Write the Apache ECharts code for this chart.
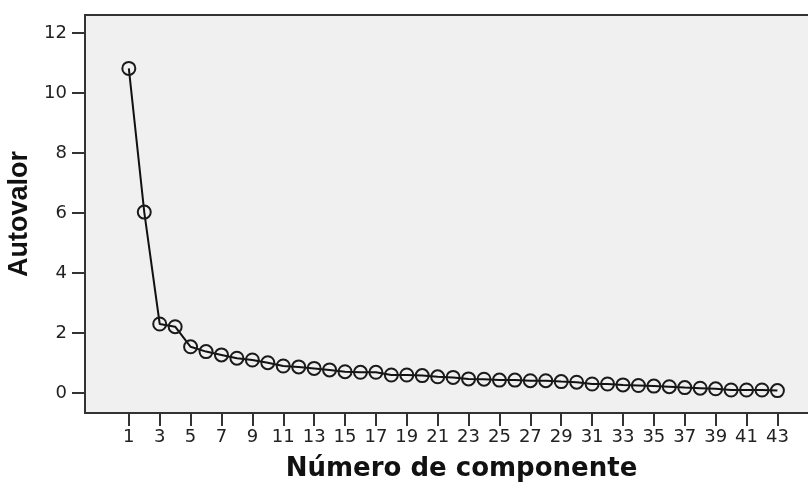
<!DOCTYPE html>
<html>
<head>
<meta charset="utf-8">
<script src="https://cdn.jsdelivr.net/npm/echarts@6/dist/echarts.min.js"></script>
<style>html,body{margin:0;padding:0;background:#fff;}#c{width:808px;height:487px;}</style>
</head>
<body>
<div id="c"></div>
<script>
const components = [1,2,3,4,5,6,7,8,9,10,11,12,13,14,15,16,17,18,19,20,21,22,23,24,25,26,27,28,29,30,31,32,33,34,35,36,37,38,39,40,41,42,43];
const eigenvalues = [10.82,6.03,2.30,2.21,1.54,1.38,1.27,1.16,1.10,1.01,0.90,0.87,0.82,0.77,0.71,0.69,0.69,0.60,0.60,0.58,0.54,0.52,0.47,0.46,0.43,0.43,0.41,0.41,0.38,0.36,0.30,0.30,0.27,0.25,0.23,0.21,0.18,0.16,0.14,0.10,0.10,0.10,0.08];
const xTicks = [1,3,5,7,9,11,13,15,17,19,21,23,25,27,29,31,33,35,37,39,41,43];
const yTicks = [0,2,4,6,8,10,12];
const xTitle = 'Número de componente';
const yTitle = 'Autovalor';

const chart = echarts.init(document.getElementById('c'), null, {renderer: 'canvas'});
chart.setOption({
  animation: false,
  backgroundColor: '#ffffff',
  grid: {
    left: 85, top: 15, right: -4, bottom: 74,
    containLabel: false,
    outerBoundsMode: 'none',
    show: true, backgroundColor: '#f0f0f0', borderColor: '#333333', borderWidth: 2
  },
  xAxis: {
    type: 'value',
    min: -1.838, max: 45.24,
    splitLine: {show: false},
    axisLine: {show: false, onZero: false},
    axisTick: {show: true, inside: false, length: 13, lineStyle: {color: '#333', width: 2}, customValues: xTicks},
    axisLabel: {show: true, margin: 15, color: '#222', fontFamily: 'DejaVu Sans', fontSize: 18, customValues: xTicks},
    name: xTitle,
    nameLocation: 'middle',
    nameGap: 43,
    nameTextStyle: {fontFamily: 'DejaVu Sans', fontWeight: 'bold', fontSize: 26, color: '#111', padding: [0, 0, 0, 26]}
  },
  yAxis: {
    type: 'value',
    min: -0.6667, max: 12.6,
    splitLine: {show: false},
    axisLine: {show: false, onZero: false},
    axisTick: {show: true, inside: false, length: 13, lineStyle: {color: '#333', width: 2}, customValues: yTicks},
    axisLabel: {show: true, margin: 18, color: '#222', fontFamily: 'DejaVu Sans', fontSize: 18, customValues: yTicks},
    name: yTitle,
    nameLocation: 'middle',
    nameGap: 50,
    nameRotate: 90,
    nameTextStyle: {fontFamily: 'Liberation Sans', fontWeight: 'bold', fontSize: 27, color: '#111'}
  },
  series: [{
    type: 'line',
    data: components.map((c, i) => [c, eigenvalues[i]]),
    lineStyle: {color: '#111', width: 2},
    symbol: 'circle',
    symbolSize: 13,
    itemStyle: {color: 'rgba(0,0,0,0)', borderColor: '#1a1a1a', borderWidth: 2},
    emphasis: {disabled: true}
  }]
});
</script>
</body>
</html>
